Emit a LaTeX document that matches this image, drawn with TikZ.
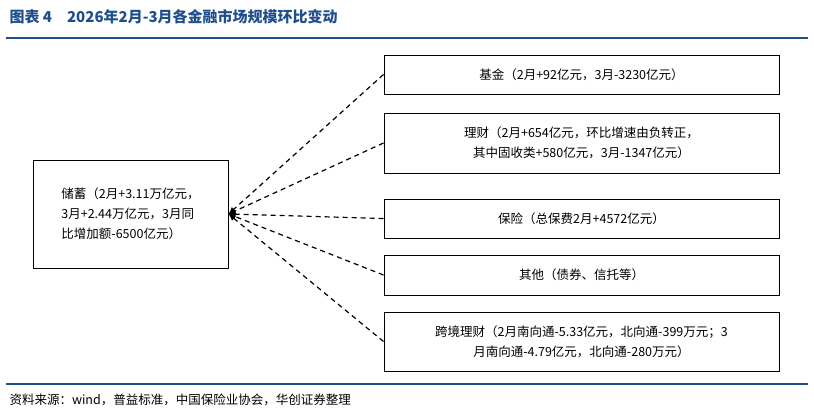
\documentclass[tikz,border=0pt]{standalone}
\usepackage{fontspec}
\setmainfont{Noto Sans CJK SC}
\usetikzlibrary{arrows.meta}
\definecolor{navy}{HTML}{1F4E8C}
\begin{document}
\begin{tikzpicture}[x=1pt,y=-1pt,
  box/.style={draw,line width=1pt,inner sep=0pt,font=\fontsize{12.5}{20}\selectfont,align=center},
  conn/.style={line width=1.2pt,dash pattern=on 5pt off 4pt,-{Latex[length=7pt,width=6pt]}}]
\useasboundingbox (0,0) rectangle (814,415);
\node[anchor=west,text=navy,font=\bfseries\fontsize{15}{17}\selectfont] (t) at (6,17) {图表 4\quad 2026年2月-3月各金融市场规模环比变动};
\draw[navy,line width=1.6pt] (6,38) -- (808,38);
\node[box,minimum width=395pt,minimum height=39pt] (b1) at (581.5,74.5) {基金（2月+92亿元，3月-3230亿元）};
\node[box,minimum width=395pt,minimum height=60pt] (b2) at (581.5,143) {理财（2月+654亿元，环比增速由负转正，\\其中固收类+580亿元，3月-1347亿元）};
\node[box,minimum width=395pt,minimum height=39pt] (b3) at (581.5,218.5) {保险（总保费2月+4572亿元）};
\node[box,minimum width=395pt,minimum height=40pt] (b4) at (581.5,275) {其他（债券、信托等）};
\node[box,minimum width=395pt,minimum height=59pt] (b5) at (581.5,341.5) {跨境理财（2月南向通-5.33亿元，北向通-399万元；3\\月南向通-4.79亿元，北向通-280万元）};
\node[box,align=left,minimum width=195pt,minimum height=108pt] (l) at (130.5,214) {储蓄（2月+3.11万亿元，\\3月+2.44万亿元，3月同\\比增加额-6500亿元）};
\coordinate (tip) at (l.east);
\foreach \b in {b1,b2,b3,b4,b5} \draw[conn] (\b.west) -- (tip);
\draw[navy,line width=1.4pt] (6,384) -- (808,384);
\node[anchor=west,font=\itshape\fontsize{12.5}{14}\selectfont] (s) at (6,400) {资料来源：wind，普益标准，中国保险业协会，华创证券整理};
\end{tikzpicture}
\end{document}
